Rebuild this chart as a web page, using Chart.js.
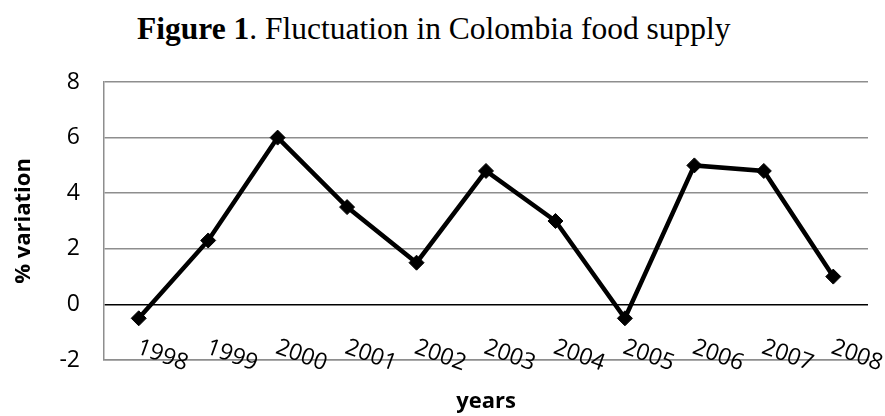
<!DOCTYPE html>
<html>
<head>
<meta charset="utf-8">
<script src="https://cdn.jsdelivr.net/npm/chart.js@4/dist/chart.umd.min.js"></script>
<style>
    html, body { margin: 0; padding: 0; background: #fff; }
    #wrap { position: relative; width: 885px; height: 416px; }
    #title {
        position: absolute; left: 137px; top: 13px;
        font-family: "Liberation Serif", "Times New Roman", serif;
        font-size: 31.5px; line-height: 1; color: #000; white-space: nowrap;
    }
    canvas { position: absolute; left: 0; top: 0; }
</style>
</head>
<body>
<div id="wrap">
    <div id="title"><b>Figure 1</b>. Fluctuation in Colombia food supply</div>
    <canvas id="chart" width="885" height="416"></canvas>
</div>
<script>
const years = ["1998", "1999", "2000", "2001", "2002", "2003", "2004", "2005", "2006", "2007", "2008"];
const variation = [-0.5, 2.3, 6.0, 3.5, 1.5, 4.8, 3.0, -0.5, 5.0, 4.8, 1.0];
const yMin = -2;
const yMax = 8;
const yStep = 2;

const tickFont = {family: "'Open Sans', sans-serif", size: 23};
const titleFont = {family: "'Open Sans', sans-serif", size: 22, weight: "bold"};

let ctx = document.getElementById("chart").getContext("2d");

new Chart(ctx, {
    type: "line",
    data: {
        labels: years,
        datasets: [{
            label: "% variation",
            data: variation,
            borderColor: "#000",
            borderWidth: 4.5,
            tension: 0,
            fill: false,
            pointStyle: "rectRot",
            pointRadius: 7.5,
            pointBackgroundColor: "#000",
            pointBorderColor: "#000",
            pointBorderWidth: 1
        }]
    },
    options: {
        responsive: false,
        animation: false,
        layout: {padding: {top: 82, right: 17, left: 0, bottom: 0}},
        plugins: {
            legend: {display: false},
            tooltip: {enabled: false}
        },
        scales: {
            x: {
                offset: true,
                grid: {display: false, drawTicks: false},
                border: {display: true, color: "#8e8e8e", width: 1.5},
                ticks: {
                    autoSkip: false,
                    // labels hang down to the right, starting at each category
                    mirror: true,
                    minRotation: -20,
                    maxRotation: -20,
                    labelOffset: 39,
                    padding: -17.5,
                    color: "#000",
                    font: tickFont
                },
                title: {
                    display: true,
                    text: "years",
                    color: "#000",
                    font: titleFont,
                    padding: {top: 0, bottom: 1}
                },
                afterFit: (scale) => { scale.height = 56; }
            },
            y: {
                min: yMin,
                max: yMax,
                grid: {
                    drawTicks: false,
                    color: (c) => c.tick && c.tick.value === 0 ? "#000" : "#8e8e8e",
                    lineWidth: 1.5
                },
                border: {display: true, color: "#8e8e8e", width: 1.5},
                ticks: {
                    stepSize: yStep,
                    padding: 24,
                    color: "#000",
                    font: tickFont
                },
                title: {
                    display: true,
                    text: "% variation",
                    color: "#000",
                    font: titleFont,
                    padding: {top: 11, bottom: 0}
                },
                afterFit: (scale) => { scale.width = 104; }
            }
        }
    }
});
</script>
</body>
</html>
